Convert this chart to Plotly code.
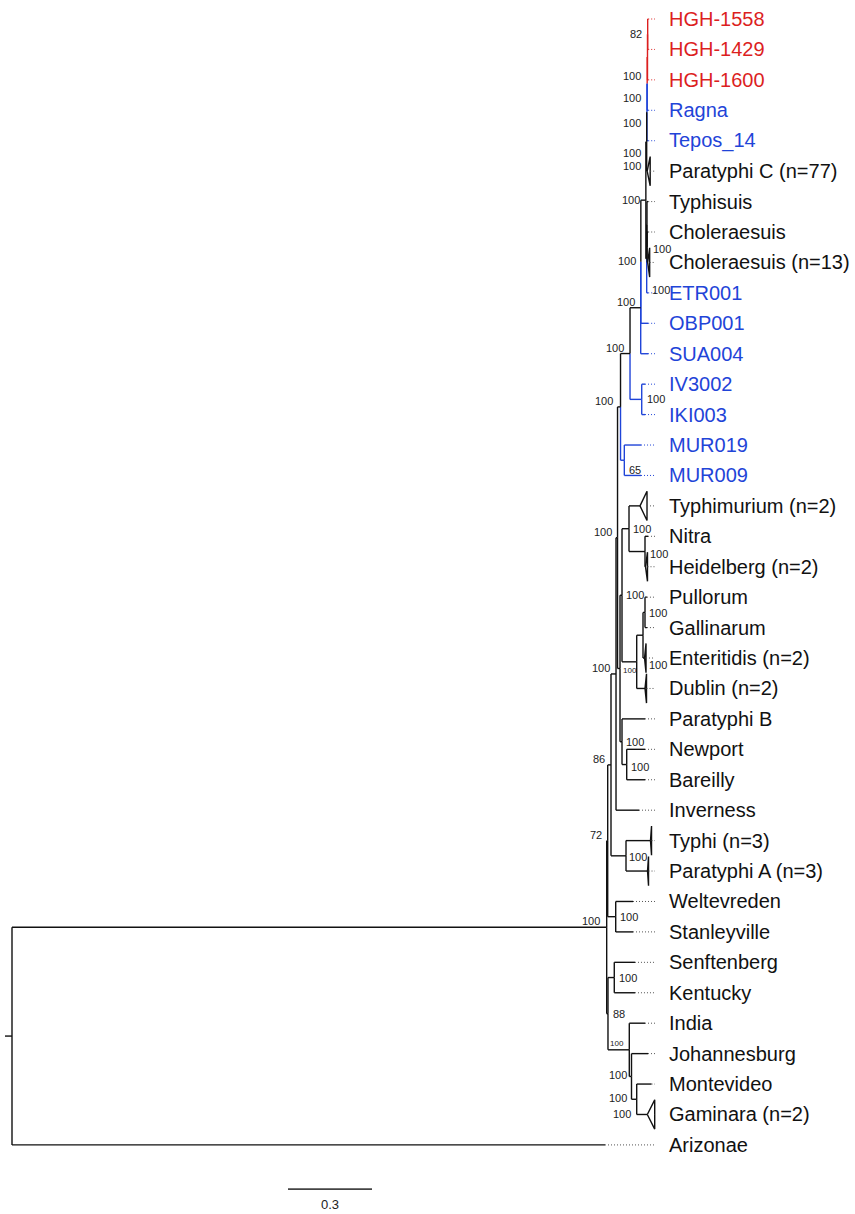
import plotly.graph_objects as go

# ---------------- tree data ----------------
# Tips in display order (top to bottom)
tip_order = [
    "HGH-1558", "HGH-1429", "HGH-1600", "Ragna", "Tepos_14",
    "Paratyphi C (n=77)", "Typhisuis", "Choleraesuis", "Choleraesuis (n=13)",
    "ETR001", "OBP001", "SUA004", "IV3002", "IKI003", "MUR019", "MUR009",
    "Typhimurium (n=2)", "Nitra", "Heidelberg (n=2)", "Pullorum", "Gallinarum",
    "Enteritidis (n=2)", "Dublin (n=2)", "Paratyphi B", "Newport", "Bareilly",
    "Inverness", "Typhi (n=3)", "Paratyphi A (n=3)", "Weltevreden", "Stanleyville",
    "Senftenberg", "Kentucky", "India", "Johannesburg", "Montevideo",
    "Gaminara (n=2)", "Arizonae",
]

# Node table: name, parent, branch length (substitutions/site), support
node = [
    "root", "enterica", "Arizonae", "n72", "n88", "n86", "WS", "nX", "TPA",
    "nY", "Inverness", "ANC", "TB", "P", "MUR", "Z3", "IVIKI", "Z2", "SUA004",
    "Z1", "OBP001", "PC5", "W", "PC4", "Paratyphi C (n=77)", "PC3", "Tepos_14",
    "PC2", "Ragna", "PC1", "HGH-1600", "HGH-1558", "HGH-1429", "TCC", "ETR001",
    "Typhisuis", "CC", "Choleraesuis", "Choleraesuis (n=13)", "IV3002", "IKI003",
    "MUR019", "MUR009", "R", "Q", "T", "PGED", "Typhimurium (n=2)", "NH",
    "Nitra", "Heidelberg (n=2)", "PGE", "Dublin (n=2)", "PG", "Enteritidis (n=2)",
    "Pullorum", "Gallinarum", "Paratyphi B", "NB", "Newport", "Bareilly",
    "Typhi (n=3)", "Paratyphi A (n=3)", "Weltevreden", "Stanleyville", "SK",
    "IJMG", "Senftenberg", "Kentucky", "India", "JMG", "Johannesburg", "MG",
    "Montevideo", "Gaminara (n=2)",
]
parent = [
    None, "root", "root", "enterica", "enterica", "n72", "n72", "n86", "n86",
    "nX", "nX", "nY", "nY", "ANC", "ANC", "P", "P", "Z3", "Z3",
    "Z2", "Z2", "Z1", "Z1", "PC5", "PC5", "PC4", "PC4",
    "PC3", "PC3", "PC2", "PC2", "PC1", "PC1", "W", "W",
    "TCC", "TCC", "CC", "CC", "IVIKI", "IVIKI",
    "MUR", "MUR", "TB", "TB", "R", "R", "T", "T",
    "NH", "NH", "PGED", "PGED", "PGE", "PGE",
    "PG", "PG", "Q", "Q", "NB", "NB",
    "TPA", "TPA", "WS", "WS", "n88",
    "n88", "SK", "SK", "IJMG", "IJMG", "JMG", "JMG",
    "MG", "MG",
]
length = [
    0.0250, 2.1239, 2.1179, 0.0036, 0.0046, 0.0118, 0.0286, 0.0179, 0.0536,
    0.0054, 0.0821, 0.0107, 0.0089, 0.0339, 0.0136, 0.0382, 0.0418, 0.0005, 0.0261,
    0.0179, 0.0261, 0.0029, 0.0029, 0.0011, 0.0018, 0.0007, 0.0043,
    0.0011, 0.0036, 0.0007, 0.0025, 0.0018, 0.0018, 0.0011, 0.0054,
    0.0043, 0.0007, 0.0036, 0.0018, 0.0118, 0.0118,
    0.0596, 0.0596, 0.0071, 0.0071, 0.0250, 0.0525, 0.0393, 0.0571,
    0.0107, 0.0018, 0.0225, 0.0296, 0.0071, 0.0054,
    0.0071, 0.0071, 0.0821, 0.0168, 0.0654, 0.0654,
    0.0875, 0.0768, 0.0618, 0.0618, 0.0225,
    0.0761, 0.0739, 0.0739, 0.0561, 0.0079, 0.0589, 0.0186,
    0.0529, 0.0379,
]
support = [
    None, 100, None, 72, 88, 86, 100, 100, 100,
    100, None, 100, 100, 100, 65, 100, 100, 100, None,
    100, None, 100, 100, 100, 100, 100, None,
    100, None, 82, None, None, None, None, None,
    None, 100, None, None, None, None,
    None, None, 100, 100, 100, None, None, 100,
    None, None, 100, None, 100, None,
    None, None, None, 100, None, None,
    None, None, None, None, 100,
    100, None, None, None, 100, None, 100,
    None, 100,
]

# Collapsed clades (drawn as triangles) and their depth
collapsed_tips = [
    "Paratyphi C (n=77)", "Choleraesuis (n=13)", "Typhimurium (n=2)",
    "Heidelberg (n=2)", "Enteritidis (n=2)", "Dublin (n=2)",
    "Typhi (n=3)", "Paratyphi A (n=3)", "Gaminara (n=2)",
]
collapsed_depth = [0.0107, 0.0071, 0.0250, 0.0071, 0.0054, 0.0054, 0.0036, 0.0036, 0.0264]

# Highlighted lineages
red_nodes = ["HGH-1558", "HGH-1429", "HGH-1600", "PC1", "PC2"]
blue_nodes = ["Ragna", "Tepos_14", "PC3", "ETR001", "OBP001", "SUA004", "Z2",
              "IV3002", "IKI003", "IVIKI", "MUR019", "MUR009", "MUR"]

# ---------------- styling ----------------
RED = "#dc1f1f"
BLUE = "#1f44d8"
BLACK = "#111111"
FONT = "Liberation Sans, Arial, Helvetica, sans-serif"
PX_PER_UNIT = 280.0
ROOT_PX = 12.0
ROW_PX = 30.43
TOP_PX = 19.0
W, H = 855, 1214
TRI_HALF = 0.48          # half height of collapsed triangles (rows)
DOT_END = 2.2964         # aligned end of the dotted leader lines
LABEL_X = 2.3393         # start of tip labels
SCALE_LEN = 0.3
SCALE_X0 = 0.9857
SCALE_ROW = 38.45

# support label placement: (side, xshift, yshift, size)
label_style = {
    "PC1": ("left", -5, 0, 11), "PC2": ("left", -5, -19, 11),
    "PC3": ("left", -5, -14, 11), "PC4": ("left", -5, -11, 11),
    "PC5": ("left", -5, -11, 11), "Paratyphi C (n=77)": ("left", -5, 5, 11),
    "Z1": ("left", -5, 0, 11), "Z2": ("left", -4, 1, 11),
    "W": ("right", 4, -31, 11), "CC": ("right", 5, -2, 11),
    "IVIKI": ("right", 4, 0, 11), "MUR": ("right", 4, -10, 11),
    "T": ("right", 3, 0, 11), "NH": ("right", 4, -2, 11),
    "R": ("right", 3, 0, 11), "PG": ("right", 3, -1, 11),
    "PGE": ("right", 5, -30, 11), "TB": ("right", 2, -2, 8),
    "Q": ("right", 3, 0, 11), "NB": ("right", 3, -2, 11),
    "TPA": ("right", 2, -1, 11), "WS": ("right", 3, 0, 11),
    "SK": ("right", 4, 0, 11), "n88": ("right", 4, 0, 11),
    "IJMG": ("left", -4, 6, 8), "JMG": ("left", -4, 1, 11),
    "MG": ("left", -9, 1, 11), "Gaminara (n=2)": ("left", -15, 0, 11),
    "ANC": ("left", -7, 6, 11), "enterica": ("left", -6, 6, 11),
}
DEFAULT_LABEL = ("left", -5, 6, 11)

# ---------------- layout of the tree ----------------
par = dict(zip(node, parent))
blen = dict(zip(node, length))
supp = dict(zip(node, support))
coll = dict(zip(collapsed_tips, collapsed_depth))
children = {n: [] for n in node}
for n, p in zip(node, parent):
    if p is not None:
        children[p].append(n)

depth = {}
for n in node:  # parents listed before children
    depth[n] = 0.0 if par[n] is None else depth[par[n]] + blen[n]

ypos = {t: i for i, t in enumerate(tip_order)}


def place(n):
    if n in ypos:
        return ypos[n]
    ys = [place(c) for c in children[n]]
    ypos[n] = (min(ys) + max(ys)) / 2.0
    return ypos[n]


place("root")


def colour(n):
    if n in red_nodes:
        return RED
    if n in blue_nodes:
        return BLUE
    return BLACK


segs = {RED: ([], []), BLUE: ([], []), BLACK: ([], [])}


def add(col, x0, y0, x1, y1):
    xs, ys = segs[col]
    xs += [x0, x1, None]
    ys += [y0, y1, None]


root = "root"
add(BLACK, -blen[root], ypos[root], 0.0, ypos[root])
for n in node:
    p = par[n]
    if p is not None:
        add(colour(n), depth[p], ypos[n], depth[n], ypos[n])
    for c in children[n]:
        add(colour(c), depth[n], ypos[n], depth[n], ypos[c])

fig = go.Figure()
for col in (RED, BLUE, BLACK):
    xs, ys = segs[col]
    fig.add_trace(go.Scatter(x=xs, y=ys, mode="lines", hoverinfo="skip",
                             line=dict(color=col, width=1.4)))

# collapsed clade triangles
tx, ty = [], []
for t, d in coll.items():
    ax, ay = depth[t], ypos[t]
    tx += [ax, ax + d, ax + d, ax, None]
    ty += [ay, ay - TRI_HALF, ay + TRI_HALF, ay, None]
fig.add_trace(go.Scatter(x=tx, y=ty, mode="lines", hoverinfo="skip",
                         line=dict(color=BLACK, width=1.4)))

# dotted leaders to aligned tip labels
for t in tip_order:
    start = depth[t] + coll.get(t, 0.0)
    col = colour(t)
    fig.add_trace(go.Scatter(
        x=[start, DOT_END], y=[ypos[t], ypos[t]], mode="lines", hoverinfo="skip",
        line=dict(color=col if col != BLACK else "#555555", width=1, dash="1px,2px")))

annotations = []
for t in tip_order:
    annotations.append(dict(
        x=LABEL_X, y=ypos[t], text=t, showarrow=False, xanchor="left", yanchor="middle",
        font=dict(family=FONT, size=20, color=colour(t))))

for n in node:
    s = supp[n]
    if s is None:
        continue
    side, dx, dy, size = label_style.get(n, DEFAULT_LABEL)
    annotations.append(dict(
        x=depth[n], y=ypos[n], text=str(s), showarrow=False,
        xanchor="right" if side == "left" else "left", yanchor="middle",
        xshift=dx, yshift=dy, borderpad=0,
        font=dict(family=FONT, size=size, color="#222222")))

# scale bar
fig.add_trace(go.Scatter(x=[SCALE_X0, SCALE_X0 + SCALE_LEN], y=[SCALE_ROW, SCALE_ROW],
                         mode="lines", hoverinfo="skip", line=dict(color="#444444", width=1.8)))
annotations.append(dict(x=SCALE_X0 + SCALE_LEN / 2, y=SCALE_ROW, text=str(SCALE_LEN),
                        showarrow=False, xanchor="center", yanchor="top", yshift=-6,
                        font=dict(family=FONT, size=13, color="#222222")))

x0 = -ROOT_PX / PX_PER_UNIT
x1 = (W - ROOT_PX) / PX_PER_UNIT
y_top = -TOP_PX / ROW_PX
y_bot = (H - TOP_PX) / ROW_PX

fig.update_layout(
    width=W, height=H, margin=dict(l=0, r=0, t=0, b=0),
    paper_bgcolor="white", plot_bgcolor="white", showlegend=False,
    xaxis=dict(range=[x0, x1], visible=False, fixedrange=True),
    yaxis=dict(range=[y_bot, y_top], visible=False, fixedrange=True),
    annotations=annotations,
)

fig.write_html("out.html", config={"displayModeBar": False})
